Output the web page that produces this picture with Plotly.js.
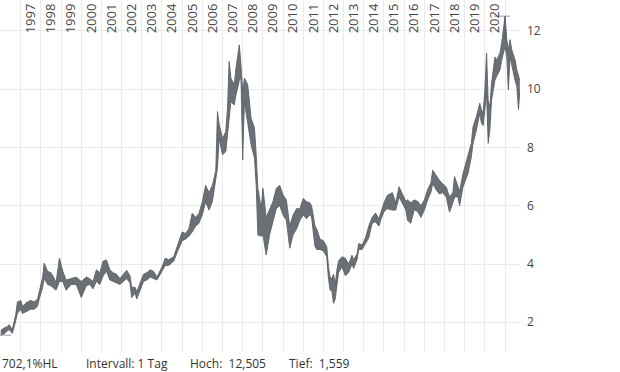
<!DOCTYPE html>
<html>
<head>
<meta charset="utf-8">
<script src="https://cdn.plot.ly/plotly-3.0.1.min.js"></script>
<style>
html,body{margin:0;padding:0;background:#fff;}
#chart{width:620px;height:372px;}
</style>
</head>
<body>
<div id="chart"></div>
<script>
const dates = [
 '1996-01-05','1996-03','1996-05','1996-06','1996-08','1996-09','1996-10','1996-11',
 '1997-01','1997-02','1997-05','1997-07','1997-09','1997-11','1997-12',
 '1998-02','1998-03','1998-05','1998-07','1998-09','1998-10','1998-12',
 '1999-02','1999-04','1999-07','1999-10',
 '2000-01','2000-04','2000-06','2000-08','2000-10','2000-12',
 '2001-02','2001-04','2001-06','2001-08','2001-10','2001-12',
 '2002-02','2002-04','2002-06','2002-07','2002-09','2002-10','2002-12',
 '2003-02','2003-04','2003-06','2003-08','2003-10',
 '2004-01','2004-03','2004-05','2004-08','2004-10',
 '2005-01','2005-03','2005-05','2005-07','2005-09','2005-11',
 '2006-01','2006-03','2006-05','2006-07','2006-09','2006-10','2006-11',
 '2007-01','2007-03','2007-04','2007-05','2007-06','2007-08','2007-09','2007-11','2007-12',
 '2008-01','2008-02','2008-04','2008-06','2008-08','2008-09','2008-10','2008-12',
 '2009-01','2009-03','2009-05','2009-07','2009-09','2009-11',
 '2010-01','2010-03','2010-05','2010-07','2010-09','2010-11',
 '2011-01','2011-03','2011-05','2011-06','2011-08','2011-09','2011-11',
 '2012-01','2012-03','2012-04','2012-05','2012-06','2012-07','2012-08','2012-09','2012-10','2012-12',
 '2013-02','2013-04','2013-06','2013-07','2013-09','2013-10','2013-12',
 '2014-02','2014-04','2014-06','2014-08','2014-10','2014-11',
 '2015-01','2015-03','2015-06','2015-08','2015-10','2015-12',
 '2016-02','2016-03','2016-05','2016-07','2016-09','2016-11',
 '2017-01','2017-03','2017-05','2017-06','2017-08','2017-10','2017-12',
 '2018-02','2018-04','2018-06','2018-07','2018-09','2018-10','2018-12',
 '2019-03','2019-05','2019-06','2019-08','2019-10','2019-11','2019-12',
 '2020-01','2020-02','2020-03','2020-04','2020-05','2020-07','2020-08','2020-10','2020-11',
 '2021-01','2021-02','2021-03','2021-04','2021-05','2021-07','2021-08','2021-09','2021-09-25'
];
const lows = [
 1.559,1.60,1.70,1.75,1.62,1.80,2.05,2.30,
 2.45,2.30,2.40,2.45,2.45,2.55,2.80,
 3.20,3.50,3.30,3.25,3.15,3.10,3.40,
 3.40,3.10,3.30,3.30,
 2.85,3.25,3.30,3.15,3.40,3.30,
 3.60,3.75,3.45,3.40,3.35,3.30,
 3.40,3.50,3.35,2.85,3.00,2.80,3.10,
 3.40,3.45,3.55,3.50,3.45,
 3.75,3.95,3.95,4.10,4.40,
 4.80,4.85,4.95,5.10,5.30,5.40,
 5.70,6.14,5.85,6.14,6.83,7.30,8.30,
 7.75,7.86,8.55,9.00,9.57,9.46,9.80,10.30,10.38,
 7.57,9.57,8.90,8.09,7.63,6.70,5.00,4.95,
 5.00,4.31,5.00,5.45,5.91,6.00,
 5.68,5.50,4.54,5.00,5.20,5.50,
 5.68,5.55,5.70,5.60,4.60,4.50,4.50,
 4.45,4.25,3.50,3.10,3.10,2.65,2.80,3.20,3.70,3.90,
 3.60,3.70,4.00,3.85,4.15,4.50,4.50,
 4.70,4.90,5.40,5.45,5.30,5.50,
 5.80,5.90,5.85,5.85,6.30,6.10,
 5.85,5.50,5.40,5.86,5.80,5.60,
 5.85,6.20,6.47,6.76,6.55,6.40,6.45,
 6.30,5.78,6.10,6.30,6.30,6.00,6.64,
 7.10,7.68,8.14,8.60,9.17,8.83,8.75,
 9.29,9.86,8.14,8.60,9.63,10.30,10.44,10.67,11.00,
 11.47,11.10,9.98,11.10,10.80,10.30,10.10,9.30,9.98
];
const highs = [
 1.72,1.80,1.85,1.92,1.75,2.00,2.25,2.70,
 2.75,2.55,2.70,2.75,2.70,2.80,3.05,
 3.55,4.03,3.75,3.70,3.50,3.35,4.20,
 3.75,3.45,3.50,3.55,
 3.40,3.55,3.50,3.40,3.80,3.70,
 4.10,4.14,3.80,3.70,3.65,3.50,
 3.65,3.78,3.60,3.20,3.20,3.05,3.35,
 3.65,3.70,3.80,3.75,3.55,
 3.90,4.20,4.15,4.25,4.60,
 5.10,5.05,5.20,5.74,5.60,5.74,
 6.14,6.70,6.45,6.70,7.20,9.23,8.80,
 8.30,8.55,9.35,10.95,10.38,10.15,10.72,11.52,10.83,
 9.90,10.38,10.15,9.00,8.67,7.75,6.60,5.91,
 6.60,5.60,5.90,6.14,6.60,6.70,
 6.37,6.20,5.30,5.68,5.90,5.90,
 6.25,6.14,6.10,6.00,5.30,5.20,4.85,
 4.80,4.60,3.90,3.55,3.50,3.65,3.30,3.80,4.10,4.25,
 4.20,4.00,4.30,4.15,4.35,4.70,4.65,
 4.90,5.30,5.60,5.75,5.55,5.75,
 6.10,6.35,6.45,6.10,6.65,6.40,
 6.15,6.20,6.10,6.20,6.15,6.00,
 6.20,6.55,6.80,7.22,7.05,6.87,6.75,
 6.64,6.30,6.45,7.00,6.65,6.50,7.10,
 7.68,8.14,8.71,9.06,9.52,9.29,9.20,
 9.98,11.24,9.60,9.40,10.20,11.10,11.00,11.24,11.59,
 12.505,11.70,11.36,11.70,11.36,11.00,10.67,10.44,10.30
];
const yearLabels = ['1997','1998','1999','2000','2001','2002','2003','2004','2005','2006','2007','2008',
  '2009','2010','2011','2012','2013','2014','2015','2016','2017','2018','2019','2020'];
const yTicks = [2,4,6,8,10,12];
const intervalText = 'Intervall: 1 Tag';

const xRange = ['1995-12-22','2021-09-28'];
const lineColor = '#5a6166';
const font = 'Open Sans, Noto Sans, sans-serif';

const hoch = Math.max(...highs);
const tief = Math.min(...lows);
const hochDate = dates[highs.indexOf(hoch)];
const tiefDate = dates[lows.indexOf(tief)];
const fmt = (v, d) => v.toFixed(d).replace('.', ',');
const perf = (hoch / tief - 1) * 100;

function shiftDate(d, days) {
  const t = new Date(d.length === 7 ? d + '-01' : d);
  t.setUTCDate(t.getUTCDate() + days);
  return t.toISOString().slice(0, 10);
}

const traces = [
  {x: dates, y: lows, type: 'scatter', mode: 'lines',
   line: {color: lineColor, width: 0.9}, hoverinfo: 'skip', showlegend: false},
  {x: dates, y: highs, type: 'scatter', mode: 'lines', fill: 'tonexty',
   fillcolor: 'rgba(90,97,102,0.9)', line: {color: lineColor, width: 0.9}, hoverinfo: 'skip', showlegend: false},
  {x: [shiftDate(hochDate, -200), shiftDate(hochDate, 90)], y: [hoch, hoch], xaxis: 'x2',
   type: 'scatter', mode: 'lines', line: {color: '#9a9a9a', width: 1}, hoverinfo: 'skip', showlegend: false},
  {x: [shiftDate(tiefDate, -200), shiftDate(tiefDate, 190)], y: [tief, tief], xaxis: 'x2',
   type: 'scatter', mode: 'lines', line: {color: '#9a9a9a', width: 1}, hoverinfo: 'skip', showlegend: false},
  {x: [hochDate, hochDate], y: [highs[highs.indexOf(hoch) + 1], hoch], xaxis: 'x2',
   type: 'scatter', mode: 'lines', line: {color: lineColor, width: 1}, hoverinfo: 'skip', showlegend: false}
];

const bottomY = -11 / 352;
const layout = {
  width: 620, height: 372,
  margin: {l: 0, r: 100, t: 0, b: 20, pad: 0},
  paper_bgcolor: '#ffffff', plot_bgcolor: '#ffffff',
  showlegend: false,
  xaxis: {
    type: 'date', range: xRange, tick0: '1997-01-01', dtick: 'M12',
    showticklabels: false, ticks: '', showgrid: true, gridcolor: '#ebebeb', gridwidth: 1,
    zeroline: false, showline: false, fixedrange: true
  },
  xaxis2: {
    type: 'date', range: xRange, overlaying: 'x', anchor: 'free', position: 1, side: 'bottom',
    tickmode: 'array', tickvals: yearLabels.map(y => y + '-07-02'), ticktext: yearLabels,
    tickangle: -90, ticks: '', showgrid: false,
    zeroline: false, showline: false, fixedrange: true,
    tickfont: {family: font, size: 13, color: '#444'}
  },
  yaxis: {
    range: [0.98, 13.06], side: 'right', tickmode: 'array', tickvals: yTicks,
    ticktext: yTicks.map(String), ticks: '', showgrid: true, gridcolor: '#ebebeb', gridwidth: 1,
    zeroline: false, showline: false, fixedrange: true, ticklabelstandoff: 6,
    tickfont: {family: font, size: 12, color: '#444'}
  },
  annotations: [
    {text: fmt(perf, 1) + '%HL', x: 0, xref: 'paper', y: bottomY, yref: 'paper',
     xanchor: 'left', yanchor: 'middle', showarrow: false, font: {family: font, size: 12, color: '#333'}},
    {text: intervalText, x: 84 / 520, xref: 'paper', y: bottomY, yref: 'paper',
     xanchor: 'left', yanchor: 'middle', showarrow: false, font: {family: font, size: 12, color: '#333'}},
    {text: 'Hoch:\u00a0 ' + fmt(hoch, 3), x: 188 / 520, xref: 'paper', y: bottomY, yref: 'paper',
     xanchor: 'left', yanchor: 'middle', showarrow: false, font: {family: font, size: 12, color: '#333'}},
    {text: 'Tief:\u00a0 ' + fmt(tief, 3), x: 287 / 520, xref: 'paper', y: bottomY, yref: 'paper',
     xanchor: 'left', yanchor: 'middle', showarrow: false, font: {family: font, size: 12, color: '#333'}}
  ]
};

Plotly.newPlot('chart', traces, layout, {staticPlot: true, displayModeBar: false});
</script>
</body>
</html>
